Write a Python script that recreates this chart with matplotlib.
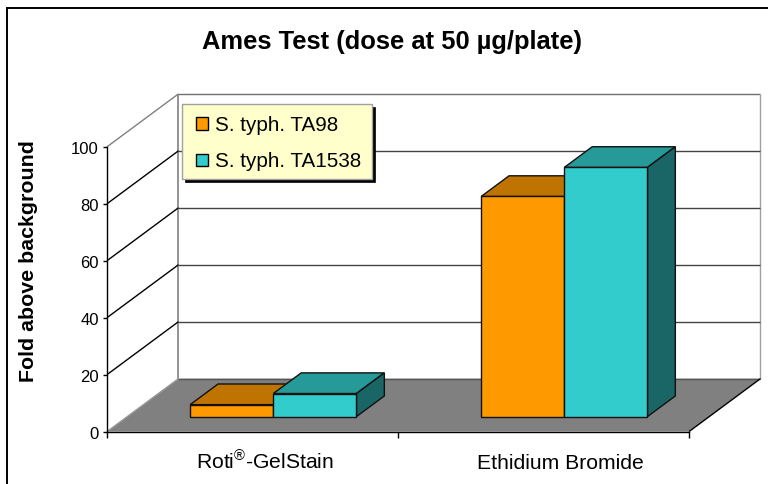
import matplotlib
matplotlib.use('Agg')
import matplotlib.pyplot as plt
from matplotlib.patches import Polygon, Rectangle

plt.rcParams['font.family'] = ['Liberation Sans', 'DejaVu Sans']
plt.rcParams['mathtext.fontset'] = 'custom'
plt.rcParams['mathtext.rm'] = 'Liberation Sans'
plt.rcParams['mathtext.default'] = 'rm'

W, H = 768, 485

categories = ['Roti$^{®}$-GelStain', 'Ethidium Bromide']
ta98 = [4.2, 77.3]
ta1538 = [8.1, 87.5]
yticks = [0, 20, 40, 60, 80, 100]

orange = ('#FF9900', '#BF7300', '#BF7300')
teal = ('#33CCCC', '#269999', '#1A6666')

# depth of the 3d box, in x units and value units
DX = 0.2457
DY = 18.6


def proj(x, v, d):
    return (x + d * DX, v + d * DY)


fig = plt.figure(figsize=(W / 100, H / 100), dpi=100)
# chart border runs off the right and bottom of the image
fig.patches.append(Rectangle((6.5 / W, 1 - 495 / H), 775 / W, 486 / H, transform=fig.transFigure,
                             fc='white', ec='black', lw=1.4, zorder=-1))

ax = fig.add_axes([107 / W, (H - 432.6) / H, 582 / W, 284.8 / H])
ax.set_xlim(0, 2)
ax.set_ylim(0, 100)
ax.patch.set_visible(False)
for s in ['top', 'right']:
    ax.spines[s].set_visible(False)
ax.spines['left'].set_linewidth(1)
ax.spines['bottom'].set_linewidth(1)
ax.spines['left'].set_zorder(6)
ax.spines['bottom'].set_zorder(6)


def poly(pts, fc, ec='#111111', lw=1, z=3):
    ax.add_patch(Polygon(pts, closed=True, fc=fc, ec=ec, lw=lw, zorder=z, clip_on=False))


def line(a, b, c, lw=1, z=1):
    ax.plot([a[0], b[0]], [a[1], b[1]], color=c, lw=lw, zorder=z, clip_on=False, solid_capstyle='butt')


# floor
poly([proj(0, 0, 0), proj(2, 0, 0), proj(2, 0, 1), proj(0, 0, 1)], '#808080', ec='none', z=2)
line(proj(0, 0, 1), proj(2, 0, 1), '#555555', z=2.5)
line(proj(2, 0, 0), proj(2, 0, 1), 'black', z=2.5)
line(proj(0, 0, 0), proj(0, 0, 1), '#999999', z=2.5)

# walls
line(proj(0, 0, 1), proj(0, 100, 1), '#808080', lw=1.2)
line(proj(0, 100, 0), proj(0, 100, 1), '#808080', lw=1)
line(proj(0, 100, 1), proj(2, 100, 1), '#707070', lw=1)
line(proj(2, 0, 1), proj(2, 100, 1), '#A0A0A0', lw=1)
for t in yticks[1:-1]:
    line(proj(0, t, 0), proj(0, t, 1), 'black')
    line(proj(0, t, 1), proj(2, t, 1), '#444444')

# bars
GAP = 0.2143
BW = 0.2857
D0 = 0.283
D1 = 0.673


def bar(x0, val, cols):
    x1 = x0 + BW
    poly([proj(x0, val, D0), proj(x1, val, D0), proj(x1, val, D1), proj(x0, val, D1)], cols[1])
    poly([proj(x1, 0, D0), proj(x1, 0, D1), proj(x1, val, D1), proj(x1, val, D0)], cols[2])
    poly([proj(x0, 0, D0), proj(x1, 0, D0), proj(x1, val, D0), proj(x0, val, D0)], cols[0])


for i in range(2):
    bar(i + GAP + 0.002, ta98[i], orange)
    bar(i + GAP + BW + 0.002, ta1538[i], teal)

# axis
ax.set_yticks(yticks)
ax.set_xticks([0, 1, 2])
ax.set_xticklabels([])
# labels sit a bit right of the category centre, like the 3d floor
ax.set_xticks([0.543, 1.558], minor=True)
ax.set_xticklabels(categories, minor=True, fontsize=15.2)
for lab in ax.get_xticklabels(minor=True):
    lab.set_verticalalignment('baseline')
ax.tick_params(axis='x', which='minor', length=0, pad=26.4)
ax.tick_params(axis='x', which='major', length=4, width=1)
ax.tick_params(axis='y', length=3, width=1, labelsize=12, pad=3)
ax.set_ylabel('Fold above background', fontsize=15.4, fontweight='bold', labelpad=0)
ax.yaxis.set_label_coords((38 - 107) / 582, 0.5 + (432 - 261 - 142) / 284.5)

fig.text(392 / W, 1 - 42 / H, 'Ames Test (dose at 50 µg/plate)', ha='center', va='center',
         fontsize=18.4, fontweight='bold')

# legend box, figure coords
fig.patches.append(Rectangle((184.5 / W, 1 - 183 / H), 190.5 / W, 75 / H, transform=fig.transFigure,
                             fc='black', ec='black', lw=0.5, zorder=7))
fig.patches.append(Rectangle((181.5 / W, 1 - 180 / H), 190.5 / W, 75 / H, transform=fig.transFigure,
                             fc='#FFFFCC', ec='#A0A0A0', lw=1, zorder=7))
legend_names = ['S. typh. TA98', 'S. typh. TA1538']
for name, c, ym in zip(legend_names, [orange[0], teal[0]], [124.5, 160.5]):
    fig.patches.append(Rectangle((196 / W, 1 - (ym + 6) / H), 12 / W, 12 / H, transform=fig.transFigure,
                                 fc=c, ec='black', lw=1, zorder=8))
    fig.text(215 / W, 1 - (ym + 1.5) / H, name, ha='left', va='center', fontsize=14.9, zorder=8)

fig.savefig('out.png', dpi=100)
